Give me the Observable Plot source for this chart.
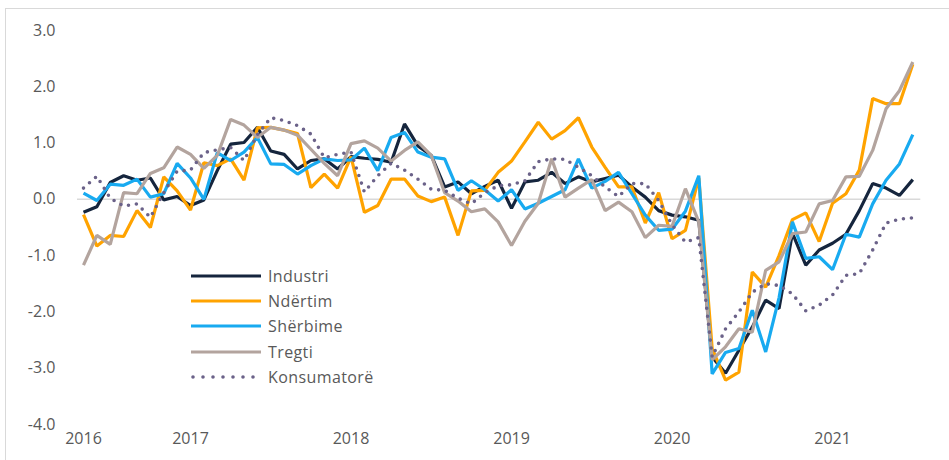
<!DOCTYPE html>
<html>
<head>
<meta charset="utf-8">
<script src="https://cdn.jsdelivr.net/npm/d3@7"></script>
<script src="https://cdn.jsdelivr.net/npm/@observablehq/plot@0.6"></script>
<style>
  html, body { margin: 0; padding: 0; background: #fff; overflow: hidden; width: 949px; height: 460px; }
  #frame { position: absolute; left: 5px; top: 8px; width: 1000px; height: 1000px; border: 1.5px solid #d9d9d9; box-sizing: border-box; }
  #chart { position: absolute; left: 0; top: 0; }
  #legend { position: absolute; left: 191px; top: 263px; font-family: 'Open Sans', sans-serif; font-size: 16px; color: #595959; letter-spacing: 0.4px; }
  .row { display: flex; align-items: center; height: 25.4px; }
  .row svg { margin-right: 7px; }
</style>
</head>
<body>
<div id="frame"></div>
<div id="chart"></div>
<div id="legend"></div>
<script>
// Categories: monthly, May 2016 .. Jul 2021
const months = d3.utcMonth.range(new Date(Date.UTC(2016, 4, 1)), new Date(Date.UTC(2021, 7, 1))).map(d3.utcFormat("%Y-%m"));
const tickMonths = ["2016-05", "2017-01", "2018-01", "2019-01", "2020-01", "2021-01"];
const yearLabels = ["2016", "2017", "2018", "2019", "2020", "2021"];
const yTicks = [3, 2, 1, 0, -1, -2, -3, -4];

const seriesNames = ["Industri", "Ndërtim", "Shërbime", "Tregti", "Konsumatorë"];

const industri = [-0.23,-0.13,0.30,0.42,0.34,0.38,-0.01,0.05,-0.11,-0.01,0.51,0.98,1.01,1.28,0.86,0.80,0.54,0.69,0.72,0.54,0.76,0.73,0.71,0.66,1.34,0.95,0.78,0.22,0.31,0.10,0.23,0.34,-0.16,0.31,0.34,0.48,0.28,0.40,0.31,0.37,0.43,0.22,0.04,-0.20,-0.28,-0.31,-0.37,-2.80,-3.09,-2.68,-2.27,-1.79,-1.94,-0.60,-1.17,-0.90,-0.78,-0.62,-0.20,0.28,0.20,0.07,0.35];
const ndertim = [-0.27,-0.83,-0.64,-0.66,-0.20,-0.50,0.40,0.15,-0.19,0.65,0.60,0.72,0.34,1.27,1.28,1.23,1.17,0.21,0.45,0.20,0.76,-0.23,-0.11,0.36,0.36,0.06,-0.04,0.04,-0.64,0.15,0.16,0.48,0.68,1.02,1.37,1.07,1.22,1.45,0.93,0.57,0.22,0.22,-0.42,0.12,-0.70,-0.55,0.38,-2.65,-3.21,-3.07,-1.29,-1.56,-1.00,-0.36,-0.24,-0.75,-0.07,0.10,0.52,1.79,1.70,1.70,2.40];
const sherbime = [0.11,-0.02,0.27,0.25,0.36,0.04,0.10,0.64,0.38,0.00,0.83,0.69,0.84,1.10,0.63,0.62,0.45,0.60,0.72,0.69,0.70,0.91,0.51,1.10,1.19,0.84,0.75,0.72,0.16,0.33,0.17,-0.03,0.17,-0.17,-0.07,0.05,0.17,0.72,0.20,0.32,0.48,0.10,-0.28,-0.55,-0.53,-0.21,0.42,-3.10,-2.72,-2.65,-1.97,-2.71,-1.75,-0.40,-1.05,-1.02,-1.25,-0.62,-0.67,-0.08,0.34,0.63,1.15];
const tregti = [-1.17,-0.64,-0.80,0.12,0.10,0.46,0.56,0.93,0.80,0.55,0.78,1.42,1.32,1.10,1.28,1.23,1.14,0.89,0.64,0.42,0.99,1.04,0.91,0.68,0.87,1.02,0.78,0.12,-0.03,-0.22,-0.17,-0.40,-0.82,-0.39,-0.07,0.72,0.04,0.20,0.35,-0.20,-0.05,-0.22,-0.68,-0.46,-0.48,0.19,-0.40,-2.85,-2.62,-2.30,-2.36,-1.26,-1.11,-0.61,-0.58,-0.08,-0.02,0.40,0.41,0.87,1.61,1.93,2.44];
const konsumatore = [0.20,0.41,0.02,-0.12,-0.08,-0.32,0.12,0.50,0.52,0.83,0.88,0.92,0.69,1.15,1.45,1.40,1.31,1.16,0.74,0.80,0.84,0.13,0.42,0.64,0.52,0.36,0.18,0.16,0.02,-0.08,0.12,0.24,0.26,0.33,0.67,0.72,0.71,0.57,0.42,0.22,0.05,0.28,0.28,-0.02,-0.45,-0.76,-0.68,-2.80,-2.30,-2.00,-1.65,-1.50,-1.53,-1.68,-1.98,-1.88,-1.70,-1.35,-1.32,-0.90,-0.42,-0.35,-0.33];

const seriesValues = [industri, ndertim, sherbime, tregti, konsumatore];
const colors = ["#15253d", "#ffa300", "#18aaf0", "#b3a49e", "#6b6289"];

const styles = seriesNames.map((name, i) => i === 4
  ? {stroke: colors[i], strokeWidth: 3.6, strokeDasharray: "0 8", strokeLinecap: "round"}
  : {stroke: colors[i], strokeWidth: 3.2, strokeLinecap: "butt", strokeLinejoin: "miter"});

const monthIndex = new Map(months.map((m, j) => [m, j]));

const lineMarks = seriesNames.map((name, i) => {
  const rows = months.map((m, j) => ({idx: monthIndex.get(m), month: m, value: seriesValues[i][j]}));
  return Plot.line(rows, {x: "idx", y: "value", ...styles[i]});
});

const chart = Plot.plot({
  width: 949,
  height: 460,
  marginLeft: 83,
  marginRight: 36.7,
  marginTop: 30,
  marginBottom: 36,
  x: {type: "linear", domain: [0, months.length - 1]},
  y: {domain: [-4, 3]},
  style: {fontFamily: "'Open Sans', sans-serif", fontSize: "16px", color: "#595959", background: "transparent"},
  marks: [
    Plot.ruleY([0], {stroke: "#d9d9d9", strokeWidth: 1.5, insetLeft: -6, insetRight: -8}),
    Plot.axisY({ticks: yTicks, tickSize: 0, tickPadding: 28, tickFormat: d => d.toFixed(1), label: null}),
    Plot.axisX({ticks: tickMonths.map(m => monthIndex.get(m)), tickSize: 0, tickPadding: 8,
                tickFormat: d => yearLabels[tickMonths.indexOf(months[d])], label: null}),
    ...lineMarks
  ]
});
document.getElementById("chart").appendChild(chart);

// Legend
const legend = d3.select("#legend");
seriesNames.forEach((name, i) => {
  const row = legend.append("div").attr("class", "row");
  const sw = row.append("svg").attr("width", 70).attr("height", 8);
  const ln = sw.append("line").attr("x1", i === 4 ? 2 : 0).attr("x2", i === 4 ? 68 : 70).attr("y1", 4).attr("y2", 4)
    .attr("stroke", colors[i]).attr("stroke-width", i === 4 ? 3.6 : 3.2);
  if (i === 4) ln.attr("stroke-dasharray", "0 10").attr("stroke-linecap", "round");
  row.append("span").text(name);
});
</script>
</body>
</html>
